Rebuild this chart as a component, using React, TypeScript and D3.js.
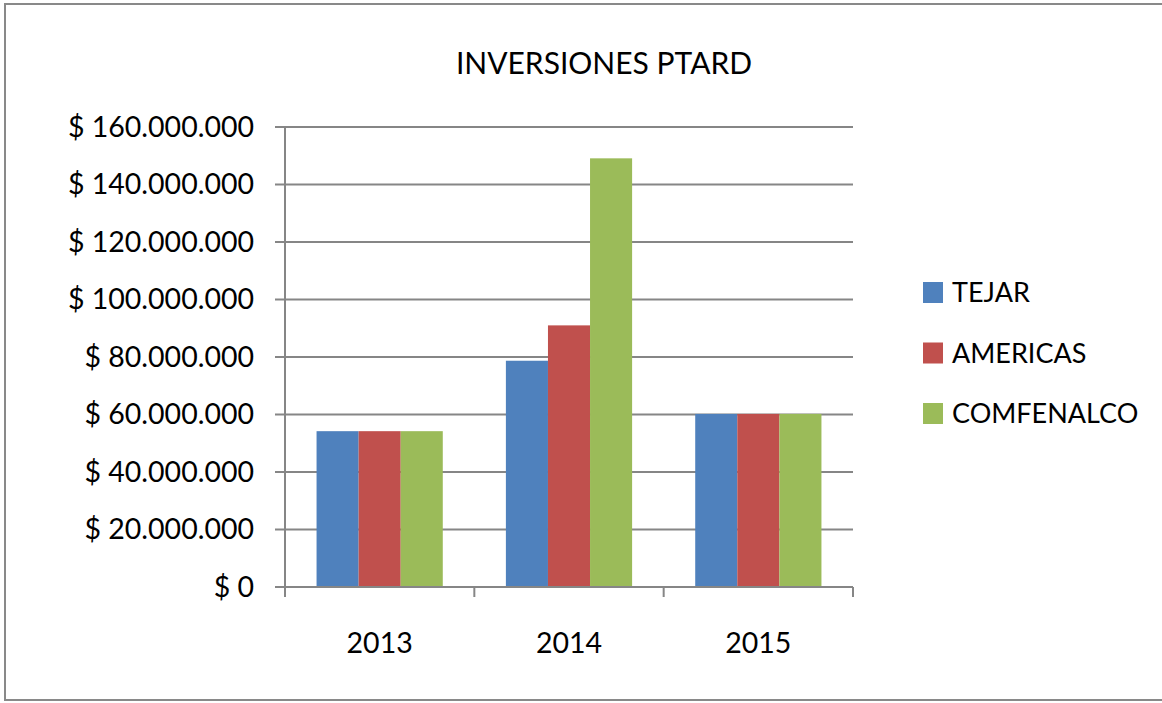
import React from "react";
import * as d3 from "d3";

const categories = ["2013", "2014", "2015"];
const seriesNames = ["TEJAR", "AMERICAS", "COMFENALCO"];
const tejar = [54200000, 78700000, 60200000];
const americas = [54200000, 91000000, 60200000];
const comfenalco = [54200000, 149100000, 60200000];
const seriesColors = ["#4F81BD", "#C0504D", "#9BBB59"];
const yTicks = [0, 20000000, 40000000, 60000000, 80000000, 100000000, 120000000, 140000000, 160000000];

const W = 1162;
const H = 703;
const FONT = "Lato, 'Open Sans', sans-serif";

export default function App() {
  const series = [tejar, americas, comfenalco];
  const left = 285, right = 853, top = 127, bottom = 587;
  const y = d3.scaleLinear().domain([0, 160000000]).range([bottom, top]);
  const x0 = d3.scaleBand().domain(categories).range([left, right]).paddingInner(0).paddingOuter(0);
  const groupW = x0.bandwidth() * 3 / 4.5;
  const x1 = d3.scaleBand().domain(seriesNames).range([0, groupW]);
  const fmt = (v: number) => "$ " + d3.format(",")(v).replace(/,/g, ".");
  const catTicks = [...categories.map((c) => x0(c) as number), right];

  return (
    <svg width={W} height={H} style={{ position: "fixed", left: 0, top: 0, background: "#fff" }}>
      <rect x={5} y={4} width={1160} height={696} fill="#fff" stroke="#898989" strokeWidth={2} />
      <text x={604} y={63} dy="0.35em" textAnchor="middle" fontFamily={FONT} fontSize={30} fill="#000">
        INVERSIONES PTARD
      </text>
      {yTicks.map((t) => (
        <g key={t}>
          <line x1={275} x2={right} y1={y(t)} y2={y(t)} stroke="#868686" strokeWidth={2} />
          <text x={254} y={y(t)} dy="0.35em" textAnchor="end" fontFamily={FONT} fontSize={28.5} fill="#000">
            {t === 0 ? "$ 0" : fmt(t)}
          </text>
        </g>
      ))}
      {series.map((vals, si) =>
        categories.map((c, ci) => {
          const bx = (x0(c) as number) + (x0.bandwidth() - groupW) / 2 + (x1(seriesNames[si]) as number);
          return (
            <rect
              key={si + "-" + ci}
              x={bx}
              y={y(vals[ci])}
              width={x1.bandwidth()}
              height={bottom - y(vals[ci])}
              fill={seriesColors[si]}
            />
          );
        })
      )}
      <line x1={left} x2={left} y1={top} y2={bottom + 10} stroke="#868686" strokeWidth={2} />
      <line x1={left} x2={right} y1={bottom} y2={bottom} stroke="#868686" strokeWidth={2} />
      {catTicks.map((tx, i) => (
        <line key={i} x1={tx} x2={tx} y1={bottom} y2={bottom + 10} stroke="#868686" strokeWidth={2} />
      ))}
      {categories.map((c) => (
        <text key={c} x={(x0(c) as number) + x0.bandwidth() / 2} y={643} dy="0.35em" textAnchor="middle" fontFamily={FONT} fontSize={28.5} fill="#000">
          {c}
        </text>
      ))}
      {seriesNames.map((n, i) => (
        <g key={n}>
          <rect x={923} y={282 + i * 60.5} width={20} height={21} fill={seriesColors[i]} />
          <text x={952} y={293 + i * 60.5} dy="0.35em" fontFamily={FONT} fontSize={27} fill="#000">
            {n}
          </text>
        </g>
      ))}
    </svg>
  );
}
